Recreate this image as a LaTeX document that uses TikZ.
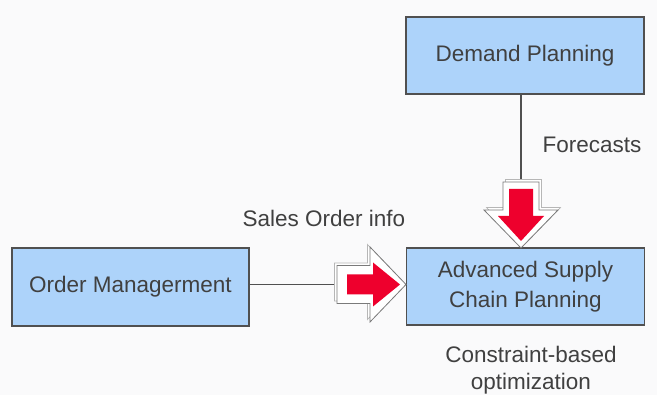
\documentclass[tikz,border=0pt]{standalone}
\usepackage{fontspec}
\setmainfont{Liberation Sans}
\definecolor{boxfill}{HTML}{ADD3FA}
\definecolor{boxline}{HTML}{505050}
\definecolor{txt}{HTML}{404040}
\definecolor{bg}{HTML}{FAFAFB}
\definecolor{arrred}{RGB}{238,0,45}
\definecolor{arrline}{HTML}{7A7A7A}
\tikzset{
  x=1pt, y=-1pt,
  sysbox/.style={draw=boxline, fill=boxfill, line width=1.1pt, text=txt,
    font=\fontsize{22.5}{29.5}\selectfont, align=center, inner sep=0pt},
  lbl/.style={text=txt, font=\fontsize{22.5}{27}\selectfont, inner sep=0pt, anchor=base},
  conn/.style={draw=boxline, line width=1.1pt},
  fatout/.style={draw=arrline, fill=white, line width=0.8pt, line join=miter},
  fatshadow/.style={draw=arrline!55, fill=white, line width=0.7pt},
  fatred/.style={fill=arrred, draw=none}
}
\begin{document}
\begin{tikzpicture}
\fill[bg] (0,0) rectangle (657,395);
\useasboundingbox (0,0) rectangle (657,395);

% boxes
\node[sysbox, minimum width=238pt, minimum height=77pt] (dp) at (525,55.5) {Demand Planning};
\node[sysbox, minimum width=238pt, minimum height=77pt] (ascp) at (525.5,286.5) {Advanced Supply\\Chain Planning};
\node[sysbox, minimum width=237pt, minimum height=78pt] (om) at (130.5,287) {Order Managerment};

% connector endpoints
\coordinate (dtop) at (521,182);
\coordinate (rtail) at (337,284.5);

\draw[conn] (dp.south -| dtop) -- (dtop);
\draw[conn] (om.east |- rtail) -- (rtail);

% down fat arrow
\begin{scope}[shift={(dtop)}]
  \draw[fatshadow, shift={(2.5,-2.5)}] (-18,0) -- (18,0) -- (18,28) -- (37,28) -- (0,66) -- (-37,28) -- (-18,28) -- cycle;
  \draw[fatout] (-18,0) -- (18,0) -- (18,28) -- (37,28) -- (0,66) -- (-37,28) -- (-18,28) -- cycle;
  \fill[fatred] (-12,7) -- (12,7) -- (12,34) -- (23,34) -- (0,59) -- (-23,34) -- (-12,34) -- cycle;
\end{scope}

% right fat arrow
\begin{scope}[shift={(rtail)}]
  \draw[fatshadow, shift={(-2.5,-2.5)}] (0,-19) -- (33,-19) -- (33,-37.5) -- (69,0) -- (33,37.5) -- (33,19) -- (0,19) -- cycle;
  \draw[fatout] (0,-19) -- (33,-19) -- (33,-37.5) -- (69,0) -- (33,37.5) -- (33,19) -- (0,19) -- cycle;
  \fill[fatred] (10,-10) -- (36,-10) -- (36,-22) -- (63,0) -- (36,22) -- (36,10) -- (10,10) -- cycle;
\end{scope}

% labels
\node[lbl] (sales) at (324,227) {Sales Order info};
\node[lbl] (fc) at (592,153) {Forecasts};
\node[lbl] (cb1) at (531,363) {Constraint-based};
\node[lbl] (cb2) at (531,390) {optimization};
\end{tikzpicture}
\end{document}
